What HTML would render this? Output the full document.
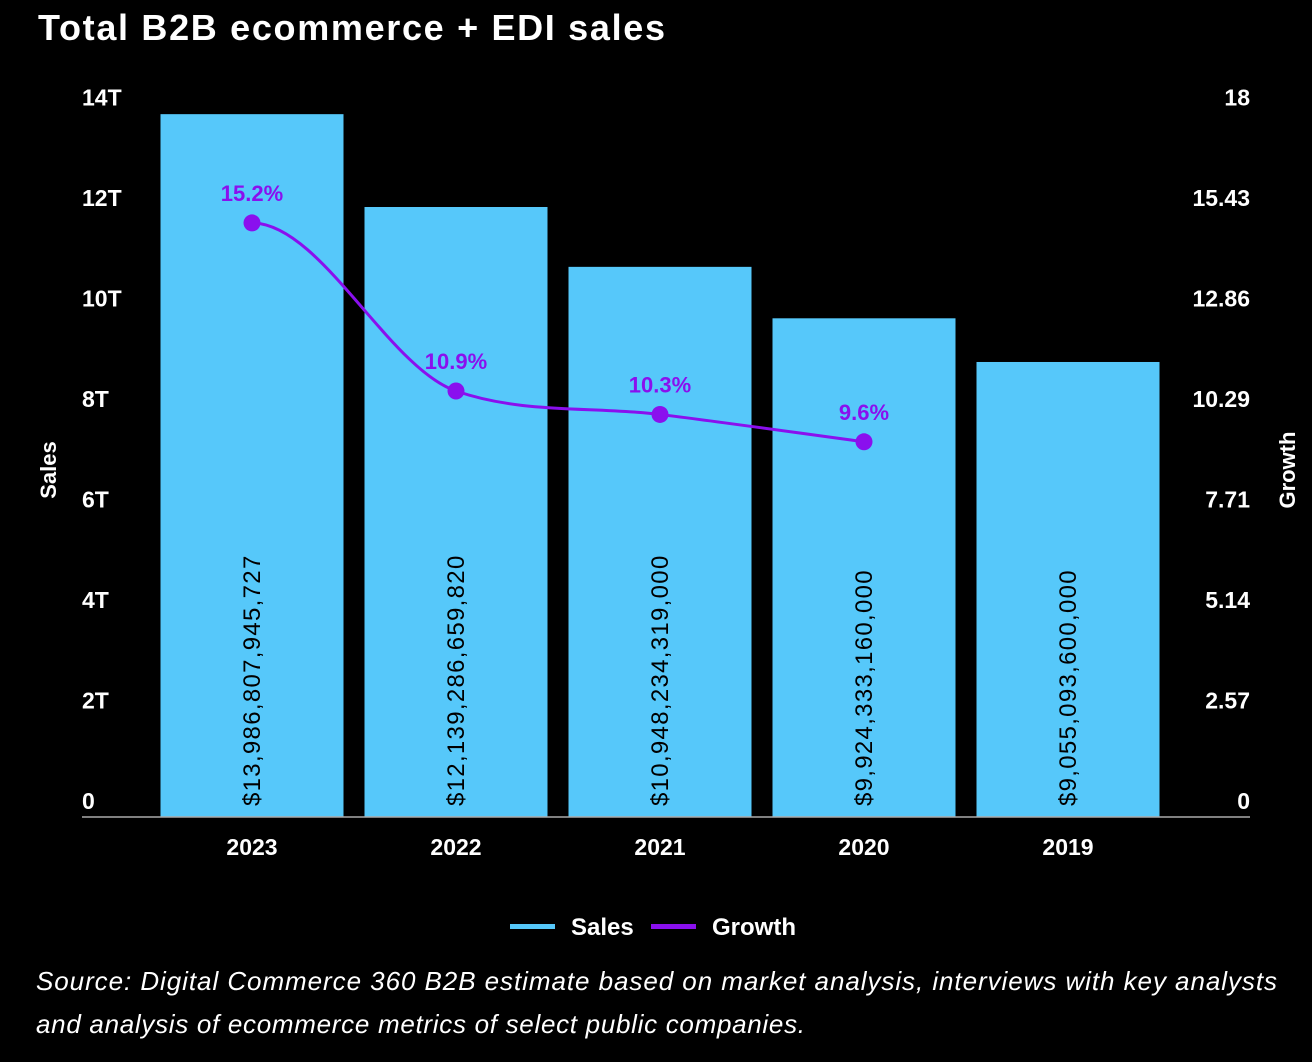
<!DOCTYPE html>
<html><head><meta charset="utf-8"><style>
body{margin:0;background:#000;width:1312px;height:1062px;overflow:hidden;font-family:"Liberation Sans",sans-serif;}
</style></head><body>
<svg width="1312" height="1062" style="display:block">
<text x="38" y="40" fill="#fff" font-size="36" font-weight="bold" textLength="627" lengthAdjust="spacing">Total B2B ecommerce + EDI sales</text>
<g id="plot"></g>
<g>
<rect x="510" y="924" width="45" height="5" fill="#56c8fa"/>
<text x="571" y="935" fill="#fff" font-size="24" font-weight="bold">Sales</text>
<rect x="651" y="924" width="45" height="5" fill="#8a10ee"/>
<text x="712" y="935" fill="#fff" font-size="24" font-weight="bold">Growth</text>
</g>
<text x="36" y="990" fill="#fff" font-size="26" font-style="italic" textLength="1241" lengthAdjust="spacing">Source: Digital Commerce 360 B2B estimate based on market analysis, interviews with key analysts</text>
<text x="36" y="1033" fill="#fff" font-size="26" font-style="italic" textLength="769" lengthAdjust="spacing">and analysis of ecommerce metrics of select public companies.</text>
</svg>
<script>
const categories=["2023","2022","2021","2020","2019"];
const sales=[13986807945727,12139286659820,10948234319000,9924333160000,9055093600000];
const salesLabels=["$13,986,807,945,727","$12,139,286,659,820","$10,948,234,319,000","$9,924,333,160,000","$9,055,093,600,000"];
const growth=[15.2,10.9,10.3,9.6,null];
const leftTicks=[0,2,4,6,8,10,12,14];
const rightTicks=["0","2.57","5.14","7.71","10.29","12.86","15.43","18"];
const NS="http://www.w3.org/2000/svg";
const g=document.getElementById('plot');
const y0=817,yTop=113.5,x0=150,x1=1170;
const yL=v=>y0-(v/14e12)*(y0-yTop);
const yR=v=>y0-(v/18)*(y0-yTop);
const band=(x1-x0)/categories.length;
const xC=i=>x0+band*(i+0.5);
function el(t,a,txt){const e=document.createElementNS(NS,t);for(const k in a)e.setAttribute(k,a[k]);if(txt!=null)e.textContent=txt;g.appendChild(e);return e;}
leftTicks.forEach((t,i)=>{const e=el('text',{x:82,y:yL(t*1e12)-8,fill:'#fff','font-size':23,'font-weight':'bold'},t===0?'0':t+'T');

});
rightTicks.forEach((t,i)=>{const e=el('text',{x:1250,y:yR(18*i/7)-8,fill:'#fff','font-size':23,'font-weight':'bold','text-anchor':'end'},t);

});
let e=el('text',{transform:'translate(56,470) rotate(-90)',fill:'#fff','font-size':22,'font-weight':'bold','text-anchor':'middle'},'Sales');


e=el('text',{transform:'translate(1295,470) rotate(-90)',fill:'#fff','font-size':22,'font-weight':'bold','text-anchor':'middle'},'Growth');


const bw=183;
categories.forEach((c,i)=>{
 const b=el('rect',{x:xC(i)-bw/2,y:yL(sales[i]),width:bw,height:y0-yL(sales[i]),fill:'#56c8fa'});
 
 
 const t=el('text',{transform:`translate(${xC(i)+8},806) rotate(-90)`,fill:'#000','font-size':24,'letter-spacing':1.3},salesLabels[i]);
 
 
 const x=el('text',{x:xC(i),y:855,fill:'#fff','font-size':23,'font-weight':'bold','text-anchor':'middle'},c);
 
 
});
e=el('line',{x1:82,x2:1250,y1:y0,y2:y0,stroke:'#aaa','stroke-width':1.5});


const pts=[];growth.forEach((v,i)=>{if(v!=null)pts.push([xC(i),yR(v),v,categories[i]]);});
let d='M'+pts[0][0]+','+pts[0][1];
const n=pts.length,m=[];
for(let i=0;i<n;i++){const p=pts[Math.max(0,i-1)],q=pts[Math.min(n-1,i+1)];m.push((q[1]-p[1])/(q[0]-p[0]));}
const s=[];for(let i=0;i<n-1;i++)s.push((pts[i+1][1]-pts[i][1])/(pts[i+1][0]-pts[i][0]));
m[0]=s[0];m[n-1]=s[n-2];
for(let i=1;i<n-1;i++){ if(s[i-1]*s[i]<=0)m[i]=0; else m[i]=Math.sign(s[i])*Math.min(Math.abs(m[i]),3*Math.min(Math.abs(s[i-1]),Math.abs(s[i])));}
m[0]=0;
for(let i=0;i<n-1;i++){const h=(pts[i+1][0]-pts[i][0])/3;d+=` C${pts[i][0]+h},${pts[i][1]+m[i]*h} ${pts[i+1][0]-h},${pts[i+1][1]-m[i+1]*h} ${pts[i+1][0]},${pts[i+1][1]}`;}
e=el('path',{d:d,fill:'none',stroke:'#8a10ee','stroke-width':3});


pts.forEach(p=>{
 const c=el('circle',{cx:p[0],cy:p[1],r:8.5,fill:'#8a10ee'});
 
 
 const t=el('text',{x:p[0],y:p[1]-22,fill:'#8a10ee','font-size':22,'font-weight':'bold','text-anchor':'middle'},p[2].toFixed(1)+'%');
 
 
});
</script>
</body></html>
